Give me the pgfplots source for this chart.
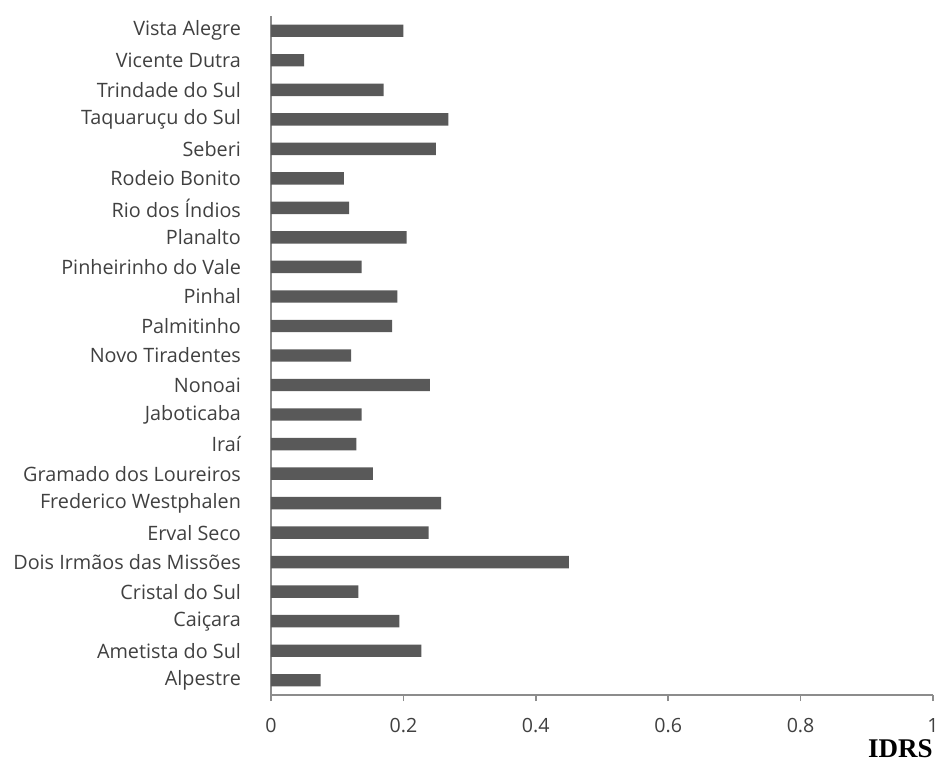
\documentclass[border=0pt]{standalone}
\usepackage{fontspec}
\setmainfont{Open Sans}
\newfontfamily\serifbold{Liberation Serif}
\usepackage{pgfplots}
\pgfplotsset{compat=1.18}
\definecolor{barc}{HTML}{595959}
\definecolor{axc}{HTML}{8C8C8C}
\definecolor{txt}{HTML}{404040}
\begin{document}
\begin{tikzpicture}
\useasboundingbox (-135.5pt,-35.5pt) rectangle (336pt,347.5pt);
\begin{axis}[
  at={(0,0)}, anchor=south west,
  scale only axis,
  width=331pt, height=339.5pt,
  xbar, bar width=6.2pt,
  xmin=0, xmax=1, ymin=-0.5, ymax=22.5,
  axis lines*=left,
  axis line style={axc, line width=0.8pt},
  every tick/.style={axc, line width=0.8pt},
  tick align=outside,
  xtick={0,0.2,0.4,0.6,0.8,1},
  xticklabels={0,0.2,0.4,0.6,0.8,1},
  x tick label style={font=\fontsize{9.8}{11}\selectfont, text=txt, yshift=-5pt},
  xtick pos=bottom,
  ytick={0,...,22},
  yticklabels={Alpestre,Ametista do Sul,Caiçara,Cristal do Sul,Dois Irmãos das Missões,Erval Seco,Frederico Westphalen,Gramado dos Loureiros,Iraí,Jaboticaba,Nonoai,Novo Tiradentes,Palmitinho,Pinhal,Pinheirinho do Vale,Planalto,Rio dos Índios,Rodeio Bonito,Seberi,Taquaruçu do Sul,Trindade do Sul,Vicente Dutra,Vista Alegre},
  y tick label style={font=\fontsize{9.9}{11}\selectfont, text=txt, xshift=-8.5pt},
  ytick pos=left,
  y tick style={draw=none},
  extra y ticks={-0.5,0.5,...,22.5},
  extra y tick labels={},
  extra y tick style={major tick length=3pt, tick style={axc, line width=0.8pt}},
  major tick length=3pt,
  xlabel={\serifbold\bfseries IDRS},
  xlabel style={at={(axis description cs:1,0)}, anchor=north east, inner sep=0pt, yshift=-22pt, xshift=0pt, font=\fontsize{13.5}{14}\selectfont, text=black},
  /pgf/number format/assume math mode=true,
]
\addplot[fill=barc, draw=none] coordinates {
(0.075,0) (0.227,1) (0.194,2) (0.132,3) (0.450,4) (0.238,5) (0.257,6) (0.154,7)
(0.129,8) (0.137,9) (0.240,10) (0.121,11) (0.183,12) (0.191,13) (0.137,14) (0.205,15)
(0.118,16) (0.110,17) (0.249,18) (0.268,19) (0.170,20) (0.050,21) (0.200,22)
};
\end{axis}
\end{tikzpicture}
\end{document}
